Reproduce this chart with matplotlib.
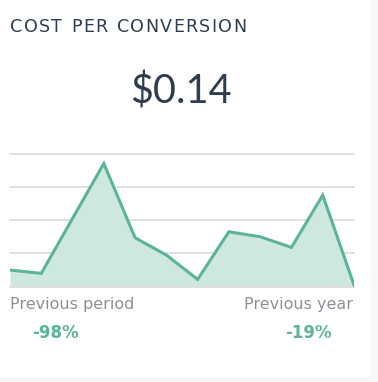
import matplotlib.pyplot as plt
from matplotlib.patches import Rectangle
import numpy as np

# chart data
values = [0.50, 0.40, 2.05, 3.70, 1.47, 0.95, 0.22, 1.65, 1.50, 1.18, 2.75, 0.05]
grid_levels = [0, 1, 2, 3, 4]
title = "COST PER CONVERSION"
big_value = "$0.14"
compare_labels = ["Previous period", "Previous year"]
compare_values = ["-98%", "-19%"]

W, H = 378, 382
line_color = "#5bb595"
fill_color = "#cfe8df"
dark = "#2e3d4f"
grey = "#8c9096"


def fx(px):
    return px / W


def fy(py):
    return 1 - py / H


def spaced_text(fig, x0, y, s, tracking, **kw):
    # matplotlib has no letter spacing, so place the characters one by one
    renderer = fig.canvas.get_renderer()
    x = x0
    for ch in s:
        t = fig.text(fx(x), fy(y), ch, ha="left", va="center", **kw)
        if ch == " ":
            w = t.get_window_extent(renderer).width
            t2 = fig.text(0, 0, "n", **kw)
            w = t2.get_window_extent(renderer).width * 0.6
            t2.remove()
        else:
            w = t.get_window_extent(renderer).width
        x += w + tracking


fig = plt.figure(figsize=(W / 100, H / 100), dpi=100)
fig.set_facecolor("#f7f7f7")

# white card behind everything
fig.patches.append(Rectangle((0, fy(377)), fx(370), 1 - fy(377) + 0.01,
                             transform=fig.transFigure, facecolor="white",
                             edgecolor="none", zorder=-5))

# area chart
ax = fig.add_axes([fx(10), fy(286.7), fx(354) - fx(10), fy(153.5) - fy(286.7)])
ax.set_facecolor("none")
x = np.arange(len(values))
ax.fill_between(x, values, 0, color=fill_color, lw=0, zorder=2)
ax.plot(x, values, color=line_color, lw=2.2, solid_joinstyle="miter", zorder=3)
for g in grid_levels:
    ax.axhline(g, color="#dcdcdc", lw=1.2, zorder=1 if g else 2.5, clip_on=False)
ax.set_xlim(0, len(values) - 1)
ax.set_ylim(0, grid_levels[-1])
ax.axis("off")

# texts
spaced_text(fig, 10, 27, title, 1.3, fontsize=12.6, family="DejaVu Sans", color=dark)
fig.text(fx(181), fy(91), big_value, fontsize=28.5, family="Lato",
         color=dark, ha="center", va="center")
fig.text(fx(10), fy(305), compare_labels[0], fontsize=11.5, family="DejaVu Sans",
         color=grey, ha="left", va="center")
fig.text(fx(353), fy(305), compare_labels[1], fontsize=11.5, family="DejaVu Sans",
         color=grey, ha="right", va="center")
fig.text(fx(55.5), fy(333), compare_values[0], fontsize=12, family="DejaVu Sans",
         fontweight="bold", color=line_color, ha="center", va="center")
fig.text(fx(308.5), fy(333), compare_values[1], fontsize=12, family="DejaVu Sans",
         fontweight="bold", color=line_color, ha="center", va="center")

fig.savefig("out.png", dpi=100)
